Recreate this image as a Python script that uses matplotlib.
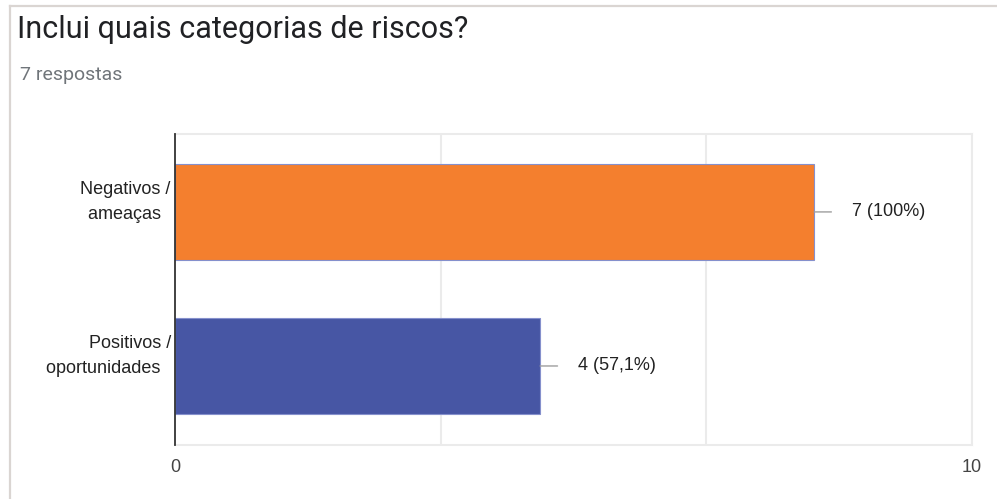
import matplotlib.pyplot as plt
import matplotlib.transforms as mtransforms
import numpy as np
from matplotlib.lines import Line2D

title = 'Inclui quais categorias de riscos?'
subtitle = '7 respostas'
categories = ['Negativos /\nameaças  ', 'Positivos /\noportunidades  ']
counts = [7, 4]
labels = ['7 (100%)', '4 (57,1%)']
colors = ['#F47F2E', '#4756A4']
x_ticklabels = ['0', '10']
x_max = 8.73  # right edge of the plotting area

fig = plt.figure(figsize=(9.97, 4.99), dpi=100)
ax = fig.add_axes([0.1755, 0.1082, 0.7994, 0.6233])

y = np.arange(len(categories))
ax.barh(y, counts, height=0.62, color=colors, edgecolor='#8590CC', linewidth=0.8, zorder=3)

# value labels with a short leader line
for yi, c, lab in zip(y, counts, labels):
    ax.annotate('', xy=(c, yi), xytext=(12.5, 0), textcoords='offset points',
                arrowprops=dict(arrowstyle='-', color='#9e9e9e', lw=1.0,
                                shrinkA=0, shrinkB=0))
    ax.annotate(lab, xy=(c, yi), xytext=(27.5, 0), textcoords='offset points',
                va='center', ha='left', fontsize=13, color='#222222',
                family='Liberation Sans')

ax.set_xlim(0, x_max)
ax.set_ylim(1.513, -0.506)

# light grid at thirds of the axis
for gx in np.linspace(0, x_max, 4)[1:]:
    ax.axvline(gx, color='#ebebeb', lw=1.5, zorder=1)

ax.set_xticks([0, x_max])
ax.set_xticklabels(x_ticklabels)
ax.set_yticks(y)
ax.set_yticklabels(categories, linespacing=1.55)
ax.tick_params(axis='both', length=0, labelsize=13, labelcolor='#222222')
ax.tick_params(axis='x', pad=10, labelcolor='#444444')
ax.tick_params(axis='y', pad=3)
for t in ax.get_xticklabels() + ax.get_yticklabels():
    t.set_family('Liberation Sans')

# the wrapped category names sit with their second line on the bar centre
shift = mtransforms.ScaledTranslation(0, 15.5 / 100, fig.dpi_scale_trans)
for t in ax.get_yticklabels():
    t.set_transform(t.get_transform() + shift)

for side in ['top', 'right', 'bottom']:
    ax.spines[side].set_color('#ebebeb')
    ax.spines[side].set_linewidth(1.5)
ax.spines['left'].set_color('#333333')
ax.spines['left'].set_linewidth(1.3)
ax.spines['left'].set_zorder(4)

fig.text(17 / 997, 1 - 38 / 499, title, fontsize=22, color='#202124',
         family='Roboto', va='baseline', ha='left')
fig.text(20 / 997, 1 - 80 / 499, subtitle, fontsize=14, color='#70757a',
         family='Roboto', va='baseline', ha='left')

# card border on the top and left
fig.add_artist(Line2D([10 / 997, 1], [1 - 5.5 / 499, 1 - 5.5 / 499],
                      transform=fig.transFigure, color='#dad5d2', lw=1.6))
fig.add_artist(Line2D([10 / 997, 10 / 997], [0, 1 - 5.5 / 499],
                      transform=fig.transFigure, color='#dad5d2', lw=1.6))

fig.savefig('out.png', dpi=100)
